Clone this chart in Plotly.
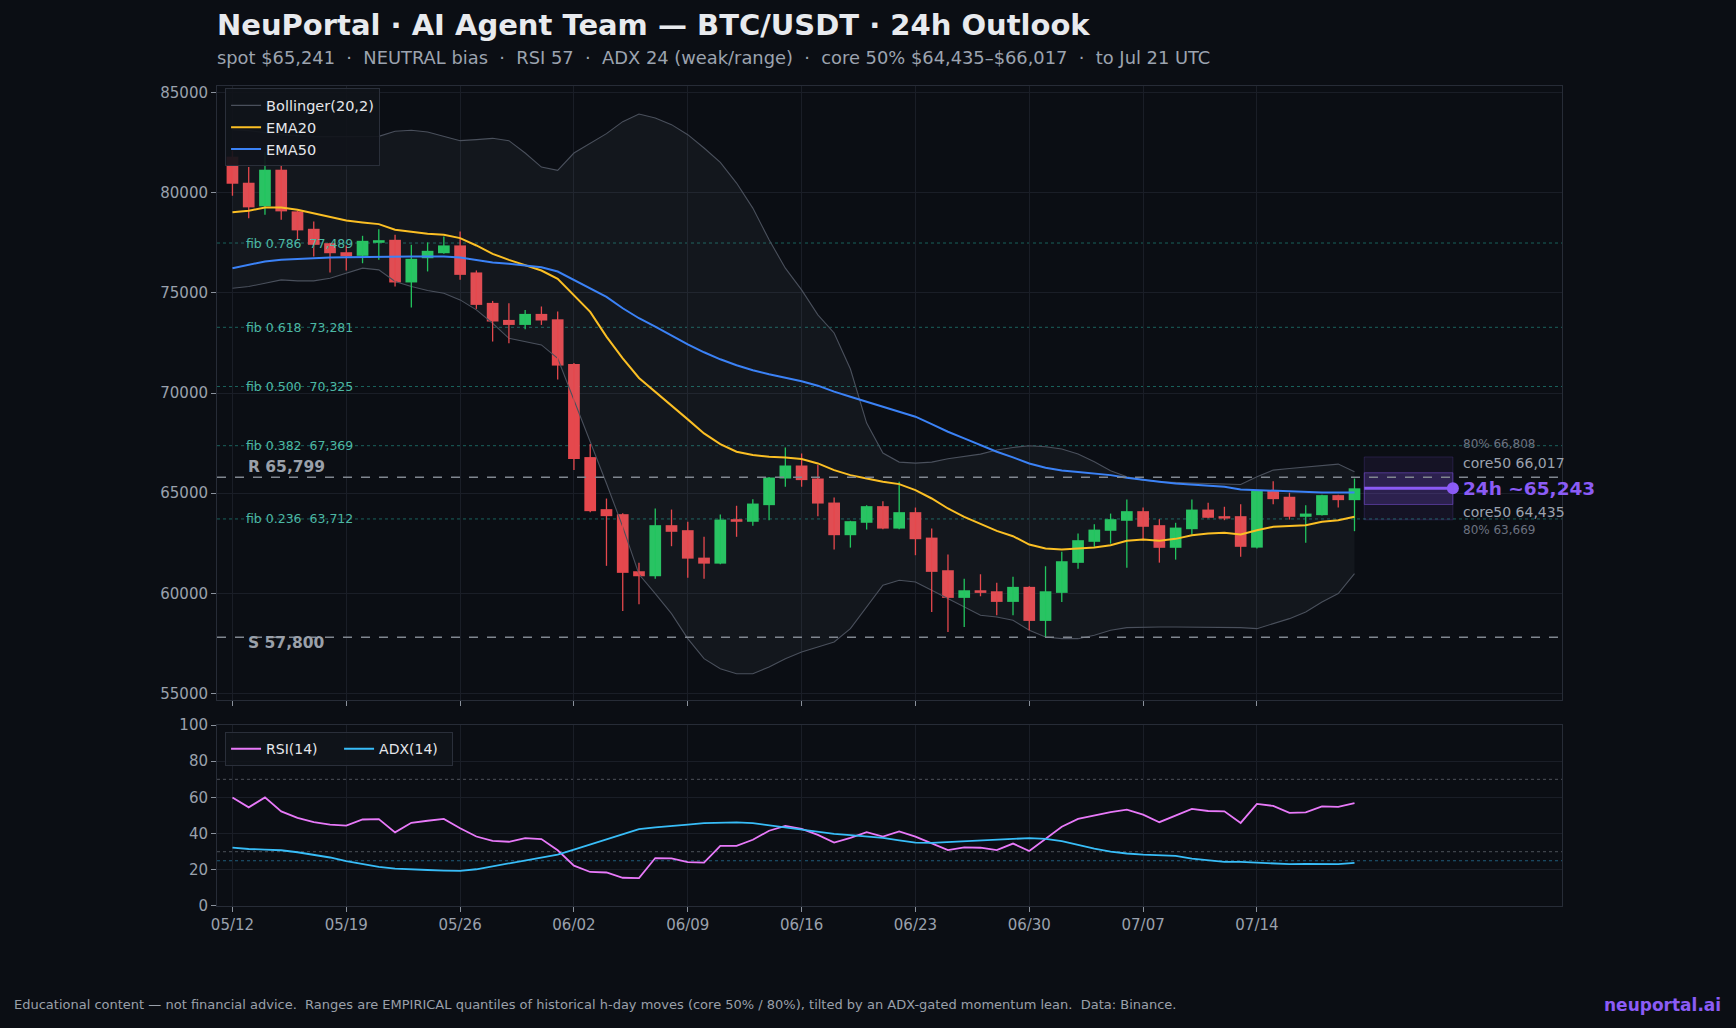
import plotly.graph_objects as go

# ---------------- data ----------------
tick_labels = ['05/12', '05/19', '05/26', '06/02', '06/09', '06/16', '06/23', '06/30', '07/07', '07/14']
tick_pos = [0, 7, 14, 21, 28, 35, 42, 49, 56, 63]

open_ = [81800, 80500, 79320, 81150, 79070, 78200, 77480, 77030, 76850, 77500,
         77650, 75520, 76730, 76980, 77370, 76020, 74500, 73650, 73400, 73950,
         73680, 71450, 66800, 64200, 63950, 61100, 60850, 63400, 63150, 61780,
         61480, 63700, 63570, 64400, 65730, 66380, 65730, 64530, 62900, 63520,
         64350, 63230, 64050, 62780, 61150, 59770, 60150, 60100, 59570, 60320,
         58620, 60020, 61520, 62570, 63120, 63620, 64100, 63400, 62270, 63200,
         64180, 63850, 63850, 62280, 65120, 64820, 63820, 63900, 64900, 64650]
high = [82100, 81280, 82020, 81400, 79100, 78570, 77500, 77370, 77850, 78180,
        77900, 77400, 77520, 77820, 78070, 76120, 74600, 74480, 74150, 74320,
        74070, 71500, 67450, 64730, 64000, 61530, 64230, 64180, 63570, 62820,
        63930, 64370, 64700, 65800, 67280, 66980, 66400, 64780, 63620, 64400,
        64600, 65570, 64280, 63230, 61930, 60730, 60950, 60530, 60820, 60350,
        61350, 62070, 62980, 63450, 63980, 64680, 64280, 63700, 63520, 64680,
        64520, 64320, 64450, 65150, 65600, 65020, 64400, 64920, 64920, 65730]
low = [79850, 78730, 78900, 78650, 77650, 76820, 76020, 76120, 76480, 76650,
       75320, 74270, 76070, 76950, 75650, 74200, 72570, 72480, 73180, 73400,
       70680, 66150, 64050, 61370, 59120, 59450, 60730, 62350, 60780, 60730,
       61450, 62820, 63370, 63650, 65320, 65320, 63850, 62180, 62280, 63180,
       63200, 63200, 61900, 59070, 58070, 58320, 59850, 58900, 58900, 58150,
       57820, 59570, 61230, 62320, 62480, 61280, 62650, 61530, 61680, 62930,
       63750, 63650, 61820, 62230, 64450, 63680, 62520, 63880, 64280, 63100]
close = [80450, 79270, 81150, 79070, 78120, 77400, 76980, 76820, 77600, 77630,
         75520, 76700, 77100, 77370, 75900, 74400, 73570, 73400, 73950, 73620,
         71370, 66700, 64100, 63850, 61020, 60850, 63400, 63070, 61730, 61480,
         63680, 63570, 64480, 65780, 66380, 65650, 64480, 62900, 63600, 64350,
         63230, 64050, 62700, 61070, 59770, 60150, 60020, 59570, 60320, 58620,
         60100, 61600, 62650, 63180, 63700, 64100, 63320, 62270, 63280, 64180,
         63770, 63730, 62320, 65120, 64700, 63820, 63980, 64900, 64650, 65241]

ema20 = [79030, 79100, 79267, 79267, 79150, 78983, 78783, 78617, 78517, 78433,
         78150, 78033, 77950, 77900, 77733, 77367, 76950, 76650, 76367, 76117,
         75700, 74900, 74050, 72817, 71733, 70750, 70067, 69400, 68683, 67983,
         67450, 67067, 66900, 66817, 66783, 66700, 66483, 66150, 65900, 65733,
         65567, 65450, 65150, 64733, 64233, 63817, 63483, 63117, 62850, 62433,
         62233, 62183, 62233, 62283, 62400, 62617, 62683, 62617, 62717, 62900,
         62983, 63017, 62933, 63150, 63317, 63350, 63400, 63567, 63650, 63817]
ema50 = [76233, 76400, 76567, 76650, 76700, 76733, 76767, 76783, 76800, 76817,
         76817, 76817, 76817, 76817, 76767, 76650, 76517, 76450, 76367, 76283,
         76067, 75650, 75233, 74800, 74233, 73733, 73317, 72867, 72433, 72033,
         71683, 71383, 71133, 70933, 70767, 70583, 70367, 70067, 69817, 69567,
         69350, 69100, 68817, 68450, 68067, 67733, 67400, 67067, 66783, 66483,
         66267, 66133, 66050, 65983, 65900, 65767, 65650, 65567, 65483, 65433,
         65383, 65317, 65183, 65150, 65117, 65067, 65050, 65033, 65033, 65033]
bb_upper = [83150, 83100, 83000, 82900, 82850, 82800, 82800, 82800, 82800, 82817,
            83067, 83117, 83033, 82817, 82600, 82650, 82717, 82600, 81983, 81283,
            81117, 81983, 82483, 82950, 83550, 83933, 83733, 83400, 82900, 82233,
            81517, 80483, 79233, 77650, 76233, 75150, 73900, 73000, 71200, 68500,
            67000, 66550, 66500, 66550, 66720, 66820, 66950, 67150, 67280, 67370,
            67320, 67200, 66950, 66567, 66117, 65817, 65650, 65567, 65517, 65500,
            65483, 65467, 65433, 65817, 66150, 66233, 66317, 66400, 66450, 66067]
bb_lower = [75233, 75317, 75483, 75650, 75600, 75600, 75733, 75983, 76233, 76150,
            75567, 75317, 75117, 74983, 74650, 74150, 73483, 72733, 72567, 72400,
            71733, 69650, 67650, 65483, 63317, 60950, 59983, 58983, 57733, 56733,
            56233, 55983, 55983, 56317, 56733, 57067, 57317, 57567, 58233, 59317,
            60400, 60650, 60567, 60150, 59733, 59317, 58900, 58817, 58650, 58150,
            57817, 57733, 57733, 57900, 58150, 58283, 58317, 58317, 58317, 58317,
            58317, 58300, 58283, 58233, 58483, 58733, 59067, 59567, 59983, 60983]

rsi = [59.9, 54.5, 60.0, 52.3, 48.7, 46.3, 45.0, 44.4, 47.8, 48.0,
       40.7, 46.0, 47.1, 48.1, 43.0, 38.4, 36.0, 35.5, 37.5, 37.0,
       30.8, 22.3, 18.8, 18.5, 15.6, 15.4, 26.5, 26.3, 24.3, 24.0,
       33.2, 33.2, 36.6, 41.6, 44.3, 42.6, 39.3, 35.0, 37.7, 40.8,
       38.4, 41.2, 38.3, 34.5, 30.9, 32.4, 32.2, 30.9, 34.5, 30.4,
       37.3, 43.8, 48.1, 50.2, 51.9, 53.2, 50.5, 46.3, 50.1, 53.7,
       52.5, 52.3, 45.9, 56.4, 55.3, 51.5, 51.7, 55.1, 54.8, 56.8]
adx = [32.3, 31.5, 31.2, 30.8, 29.7, 28.4, 26.8, 24.8, 23.0, 21.6,
       20.6, 20.1, 19.9, 19.6, 19.4, 20.3, 21.9, 23.5, 25.0, 26.4,
       28.4, 31.2, 34.1, 36.9, 39.8, 42.5, 43.5, 44.1, 45.0, 45.8,
       46.2, 46.2, 45.8, 44.6, 43.4, 42.0, 40.8, 39.8, 39.2, 38.6,
       37.6, 36.3, 35.0, 34.9, 35.4, 35.8, 36.2, 36.7, 37.1, 37.5,
       37.1, 35.8, 33.8, 31.7, 30.1, 29.0, 28.4, 28.2, 27.7, 26.2,
       25.1, 24.4, 24.4, 24.0, 23.2, 23.1, 23.2, 23.2, 23.1, 23.8]

fib_ratios = [0.786, 0.618, 0.500, 0.382, 0.236]
fib_levels = [77489, 73281, 70325, 67369, 63712]
resistance = 65799
support = 57800

spot = 65241
fc_mid = 65243
core50 = [64435, 66017]
band80 = [63669, 66808]

# ---------------- style ----------------
FONT = 'DejaVu Sans'
BG = '#0b0e14'
GRID = '#1a1e27'
FRAME = '#272c37'
TICK = '#9aa1ad'
GREEN = '#22c55e'
RED = '#e5484d'
PURPLE = '#8b5cf6'
NB = '\u00a0'

n = len(close)
idx = list(range(n))
x_range = [-0.95, 81.76]

fig = go.Figure()

# Bollinger bands
fig.add_trace(go.Scatter(x=idx, y=bb_upper, mode='lines', name='Bollinger(20,2)',
                         line=dict(color='#4a505c', width=1.1), legend='legend',
                         xaxis='x', yaxis='y', hoverinfo='skip'))
fig.add_trace(go.Scatter(x=idx, y=bb_lower, mode='lines', showlegend=False,
                         line=dict(color='#4a505c', width=1.1), fill='tonexty',
                         fillcolor='rgba(148,163,184,0.06)',
                         xaxis='x', yaxis='y', hoverinfo='skip'))

# candles: wicks
for col, cond in ((GREEN, lambda o, c: c >= o), (RED, lambda o, c: c < o)):
    wx, wy = [], []
    for i in idx:
        if cond(open_[i], close[i]):
            wx += [i, i, None]
            wy += [low[i], high[i], None]
    fig.add_trace(go.Scatter(x=wx, y=wy, mode='lines', line=dict(color=col, width=1.3),
                             showlegend=False, xaxis='x', yaxis='y', hoverinfo='skip'))

# candles: bodies
for col, cond in ((GREEN, lambda o, c: c >= o), (RED, lambda o, c: c < o)):
    bx = [i for i in idx if cond(open_[i], close[i])]
    fig.add_trace(go.Bar(x=bx, y=[abs(close[i] - open_[i]) for i in bx],
                         base=[min(open_[i], close[i]) for i in bx], width=0.72,
                         marker=dict(color=col, line=dict(width=0)), showlegend=False,
                         xaxis='x', yaxis='y', hoverinfo='skip'))

fig.add_trace(go.Scatter(x=idx, y=ema20, mode='lines', name='EMA20',
                         line=dict(color='#fbbf24', width=2), legend='legend',
                         xaxis='x', yaxis='y'))
fig.add_trace(go.Scatter(x=idx, y=ema50, mode='lines', name='EMA50',
                         line=dict(color='#3b82f6', width=2), legend='legend',
                         xaxis='x', yaxis='y'))

# forecast
fc_x0 = n - 1 + 0.6
fc_x1 = n - 1 + 6.05
fig.add_shape(type='rect', xref='x', yref='y', x0=fc_x0, x1=fc_x1, y0=band80[0], y1=band80[1],
              fillcolor='rgba(139,92,246,0.08)', line=dict(color='rgba(139,92,246,0.18)', width=1))
fig.add_shape(type='rect', xref='x', yref='y', x0=fc_x0, x1=fc_x1, y0=core50[0], y1=core50[1],
              fillcolor='rgba(139,92,246,0.20)', line=dict(color='rgba(139,92,246,0.45)', width=1))
fig.add_trace(go.Scatter(x=[fc_x0, fc_x1], y=[fc_mid, fc_mid], mode='lines',
                         line=dict(color=PURPLE, width=3), showlegend=False,
                         xaxis='x', yaxis='y', hoverinfo='skip'))
fig.add_trace(go.Scatter(x=[fc_x1], y=[fc_mid], mode='markers',
                         marker=dict(color=PURPLE, size=12), showlegend=False,
                         xaxis='x', yaxis='y', hoverinfo='skip'))

# lower panel
fig.add_trace(go.Scatter(x=idx, y=rsi, mode='lines', name='RSI(14)',
                         line=dict(color='#e879f9', width=1.8), legend='legend2',
                         xaxis='x2', yaxis='y2'))
fig.add_trace(go.Scatter(x=idx, y=adx, mode='lines', name='ADX(14)',
                         line=dict(color='#38bdf8', width=1.8), legend='legend2',
                         xaxis='x2', yaxis='y2'))

# horizontal reference lines
for lv in fib_levels:
    fig.add_shape(type='line', xref='x domain', yref='y', x0=0, x1=1, y0=lv, y1=lv,
                  line=dict(color='rgba(45,212,191,0.42)', width=1, dash='dot'), layer='below')
for lv in (resistance, support):
    fig.add_shape(type='line', xref='x domain', yref='y', x0=0, x1=1, y0=lv, y1=lv,
                  line=dict(color='#80868f', width=1.5, dash='dash'))
for lv, c in ((70, 'rgba(156,163,175,0.45)'), (30, 'rgba(156,163,175,0.45)'), (25, 'rgba(56,189,248,0.45)')):
    fig.add_shape(type='line', xref='x2 domain', yref='y2', x0=0, x1=1, y0=lv, y1=lv,
                  line=dict(color=c, width=1, dash='dot'), layer='below')

ann = []
for r, lv in zip(fib_ratios, fib_levels):
    ann.append(dict(x=0.68, y=lv, xref='x', yref='y', xanchor='left', yanchor='middle',
                    text=f'fib {r:.3f}{NB}{NB}{lv:,}', showarrow=False,
                    font=dict(family=FONT, size=12.5, color='#4cb8a4')))
ann.append(dict(x=0.83, y=resistance, xref='x', yref='y', xanchor='left', yanchor='middle', yshift=10,
                text=f'<b>R {resistance:,}</b>', showarrow=False,
                font=dict(family=FONT, size=15.5, color='#9aa0aa')))
ann.append(dict(x=0.83, y=support, xref='x', yref='y', xanchor='left', yanchor='middle', yshift=-6,
                text=f'<b>S {support:,}</b>', showarrow=False,
                font=dict(family=FONT, size=15.5, color='#9aa0aa')))

tx = n - 1 + 6.56
for val, txt, sh, sz, colr, bold in (
        (band80[1], f'80% {band80[1]:,}', 12.9, 12, '#6b7280', False),
        (core50[1], f'core50 {core50[1]:,}', 9.9, 14, '#9ca3af', False),
        (fc_mid, f'24h ~{fc_mid:,}', 0, 18.5, PURPLE, True),
        (core50[0], f'core50 {core50[0]:,}', -7.2, 14, '#9ca3af', False),
        (band80[0], f'80% {band80[0]:,}', -10.6, 12, '#6b7280', False)):
    ann.append(dict(x=tx, y=val, xref='x', yref='y', xanchor='left', yanchor='middle', yshift=sh,
                    text=(f'<b>{txt}</b>' if bold else txt), showarrow=False,
                    font=dict(family=FONT, size=sz, color=colr)))

sep = f'{NB}{NB}·{NB}{NB}'
subtitle = sep.join([f'spot ${spot:,}', 'NEUTRAL bias', f'RSI {round(rsi[-1])}',
                     f'ADX {round(adx[-1])} (weak/range)',
                     f'core 50% ${core50[0]:,}–${core50[1]:,}', 'to Jul 21 UTC'])
ann.append(dict(x=-0.0015, y=1.0745, xref='paper', yref='paper', xanchor='left', yanchor='middle',
                text='<b>NeuPortal · AI Agent Team — BTC/USDT · 24h Outlook</b>', showarrow=False,
                font=dict(family=FONT, size=29, color='#e8eaee')))
ann.append(dict(x=-0.0015, y=1.0346, xref='paper', yref='paper', xanchor='left', yanchor='middle',
                text=subtitle, showarrow=False, font=dict(family=FONT, size=17.85, color='#9ca3af')))
ann.append(dict(x=-0.1525, y=-0.1207, xref='paper', yref='paper', xanchor='left', yanchor='middle',
                text=f'Educational content — not financial advice.{NB}{NB}Ranges are EMPIRICAL quantiles of historical h-day moves (core 50% / 80%), tilted by an ADX-gated momentum lean.{NB}{NB}Data: Binance.',
                showarrow=False, font=dict(family=FONT, size=13, color='#9aa0aa')))
ann.append(dict(x=1.1195, y=-0.1207, xref='paper', yref='paper', xanchor='right', yanchor='middle',
                text='<b>neuportal.ai</b>', showarrow=False, font=dict(family=FONT, size=17, color=PURPLE)))

axis_common = dict(showgrid=True, gridcolor=GRID, gridwidth=1, showline=True, mirror=True,
                   linecolor=FRAME, linewidth=1, zeroline=False, ticks='outside', ticklen=5,
                   tickcolor='#8a919c', tickfont=dict(family=FONT, size=15, color=TICK))

fig.update_layout(
    width=1736, height=1028,
    paper_bgcolor=BG, plot_bgcolor=BG,
    margin=dict(l=217, r=174, t=86, b=122, autoexpand=False),
    barmode='overlay',
    font=dict(family=FONT, color=TICK),
    hovermode=False,
    xaxis=dict(domain=[0, 1], anchor='y', range=x_range, tickvals=tick_pos, ticktext=tick_labels,
               showticklabels=False, **axis_common),
    yaxis=dict(domain=[0.2512, 1], anchor='x', range=[54670, 85330],
               tickvals=list(range(55000, 85001, 5000)),
               ticktext=[str(v) for v in range(55000, 85001, 5000)], **axis_common),
    xaxis2=dict(domain=[0, 1], anchor='y2', range=x_range, tickvals=tick_pos, ticktext=tick_labels,
                **axis_common),
    yaxis2=dict(domain=[0, 0.2207], anchor='x2', range=[0, 100], tickvals=list(range(0, 101, 20)),
                **axis_common),
    legend=dict(x=0.006, y=0.997, xanchor='left', yanchor='top', bgcolor='rgba(16,19,26,0.92)',
                bordercolor='#2a2f3a', borderwidth=1, font=dict(family=FONT, size=14.5, color='#e5e7eb'),
                traceorder='normal', tracegroupgap=0, itemwidth=30),
    legend2=dict(x=0.006, y=0.212, xanchor='left', yanchor='top', orientation='h',
                 bgcolor='rgba(16,19,26,0.92)', bordercolor='#2a2f3a', borderwidth=1,
                 traceorder='normal', entrywidth=68,
                 font=dict(family=FONT, size=14, color='#e5e7eb')),
    annotations=ann,
    showlegend=True,
)

fig.write_html('out.html', config={'displayModeBar': False})
